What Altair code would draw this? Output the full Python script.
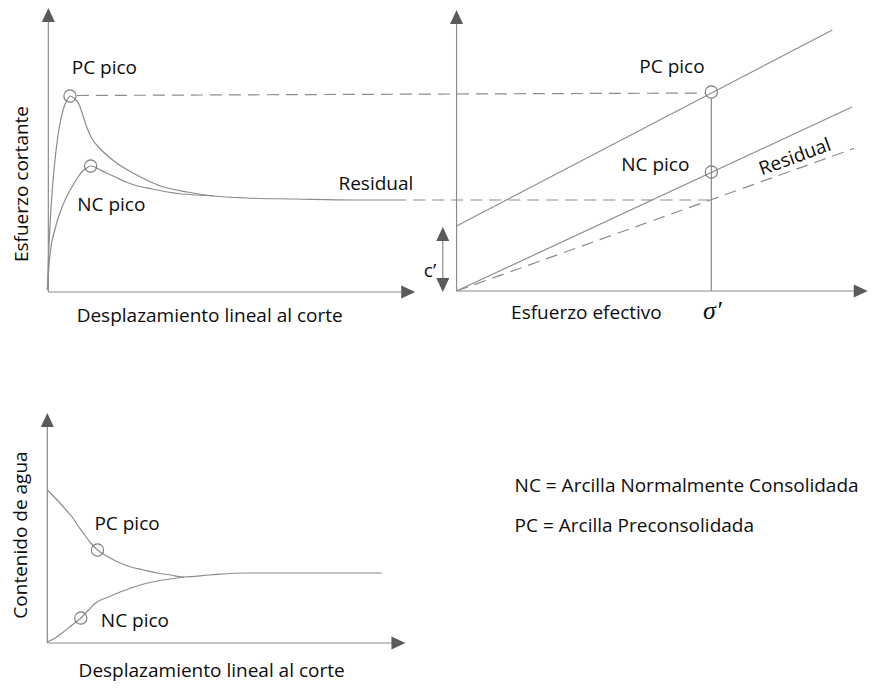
import altair as alt
import pandas as pd

# ---------------- data (diagram units) ----------------
# Panel 1: shear stress vs. shear displacement
pc_shear_x = [48, 49, 51, 53, 56, 60, 64, 68, 71, 75, 80, 84, 88, 93, 102, 117, 137, 163, 190, 217, 250, 300, 360, 413]
pc_shear_y = [290, 262, 220, 190, 158, 128, 110, 100, 96, 98, 104, 115, 127, 138, 149, 162, 174, 186, 192, 196, 198, 199, 200, 200]
nc_shear_x = [48, 50, 52, 55, 59, 63, 68, 73, 78, 83, 88, 92, 96, 100, 108, 117, 128, 140, 155, 170, 185, 200, 217]
nc_shear_y = [290, 262, 245, 232, 218, 207, 196, 187, 179, 172, 168, 166, 167, 169, 173, 177, 182, 186, 189, 192, 194, 195, 196]

# Panel 3: water content vs. shear displacement
pc_water_x = [48, 58, 67, 74, 80, 86, 92, 99, 110, 122, 133, 146, 160, 173, 187, 213, 250, 300, 388]
pc_water_y = [490, 500, 510, 518, 527, 535, 543, 550, 557, 563, 567, 570, 573, 575, 577, 575, 573, 573, 573]
nc_water_x = [48, 56, 63, 72, 82, 90, 97, 110, 122, 133, 146, 160, 173, 187]
nc_water_y = [642, 638, 633, 626, 618, 610, 603, 597, 592, 588, 584, 581, 579, 577]

# Straight solid segments: axes and failure envelopes
seg_x1 = [49, 49, 464, 464, 48, 48, 450, 464, 464, 723]
seg_y1 = [292, 292, 291, 291, 643, 643, 236, 226, 291, 99]
seg_x2 = [49, 410, 464, 876, 48, 400, 450, 846, 866, 723]
seg_y2 = [20, 292, 22, 291, 426, 643, 282, 30, 107, 291]

# Dashed segments: residual envelope and projections
dash_x1 = [464, 78, 420]
dash_y1 = [291, 95.5, 200]
dash_x2 = [875, 716, 721]
dash_y2 = [146, 93, 200]

# Arrow heads (tip position and direction in degrees)
arrow_x = [49, 422, 464, 882, 48, 412, 450, 450]
arrow_y = [8, 292, 10, 291, 413, 643, 227, 292]
arrow_angle = [0, 90, 0, 90, 0, 90, 0, 180]

# Peak markers
circle_x = [71, 92, 723, 723, 99, 82]
circle_y = [96, 166, 92, 172, 550, 618]

# Labels
label_text = ["PC pico", "NC pico", "Residual", "Desplazamiento lineal al corte",
              "PC pico", "NC pico", "Esfuerzo efectivo",
              "PC pico", "NC pico", "Desplazamiento lineal al corte"]
label_x = [106, 113, 382, 213, 683, 666, 596, 129, 137, 215]
label_y = [74, 211, 190, 322, 73, 171, 319, 530, 627, 677]

vlabel_text = ["Esfuerzo cortante", "Contenido de agua"]
vlabel_x = [28, 27]
vlabel_y = [184, 535]

legend_text = ["NC = Arcilla Normalmente Consolidada", "PC = Arcilla Preconsolidada"]
legend_x = [523, 523]
legend_y = [492, 532]

# ---------------- tables ----------------
curves = pd.concat([
    pd.DataFrame({"x": pc_shear_x, "y": pc_shear_y, "id": "pc_shear"}),
    pd.DataFrame({"x": nc_shear_x, "y": nc_shear_y, "id": "nc_shear"}),
    pd.DataFrame({"x": pc_water_x, "y": pc_water_y, "id": "pc_water"}),
    pd.DataFrame({"x": nc_water_x, "y": nc_water_y, "id": "nc_water"}),
], ignore_index=True)
curves["order"] = range(len(curves))

segs = pd.DataFrame({"x": seg_x1, "y": seg_y1, "x2": seg_x2, "y2": seg_y2})
dashes = pd.DataFrame({"x": dash_x1, "y": dash_y1, "x2": dash_x2, "y2": dash_y2})
arrows = pd.DataFrame({"x": arrow_x, "y": arrow_y, "angle": arrow_angle})
circles = pd.DataFrame({"x": circle_x, "y": circle_y})
labels = pd.DataFrame({"t": label_text, "x": label_x, "y": label_y})
vlabels = pd.DataFrame({"t": vlabel_text, "x": vlabel_x, "y": vlabel_y})
legend = pd.DataFrame({"t": legend_text, "x": legend_x, "y": legend_y})
extra = pd.DataFrame({"t": ["Residual"], "x": [808], "y": [157]})
cprime = pd.DataFrame({"t": ["c\u2019"], "x": [437], "y": [277]})
sigma = pd.DataFrame({"t": ["\u03c3\u2032"], "x": [724], "y": [319]})

XS = alt.Scale(domain=[8, 868], nice=False, zero=False)
YS = alt.Scale(domain=[8, 682], nice=False, zero=False, reverse=True)
X = alt.X("x:Q", scale=XS, axis=None)
Y = alt.Y("y:Q", scale=YS, axis=None)

GRAY = "#8c8c8c"
FONT = "Open Sans"
TXT = "#0d0d0d"

curve_layer = alt.Chart(curves).mark_line(
    interpolate="monotone", color=GRAY, strokeWidth=1.2, clip=True
).encode(x=X, y=Y, detail="id:N", order="order:Q")

seg_layer = alt.Chart(segs).mark_rule(color=GRAY, strokeWidth=1.2, clip=True).encode(
    x=X, y=Y, x2="x2:Q", y2="y2:Q")

dash_layer = alt.Chart(dashes).mark_rule(
    color=GRAY, strokeWidth=1.2, strokeDash=[12, 7], clip=True
).encode(x=X, y=Y, x2="x2:Q", y2="y2:Q")

arrow_layer = alt.Chart(arrows).mark_point(
    shape="M0,0L0.93,2L-0.93,2Z", size=196, filled=True, color="#5a5a5a", opacity=1
).encode(x=X, y=Y, angle=alt.Angle("angle:Q", scale=None))

circle_layer = alt.Chart(circles).mark_point(
    shape="circle", size=150, filled=False, color="#7a7a7a", strokeWidth=1.1, opacity=1
).encode(x=X, y=Y)

label_layer = alt.Chart(labels).mark_text(
    font=FONT, fontSize=19, color=TXT, align="center", baseline="alphabetic"
).encode(x=X, y=Y, text="t:N")

vlabel_layer = alt.Chart(vlabels).mark_text(
    font=FONT, fontSize=19, color=TXT, align="center", baseline="alphabetic", angle=270
).encode(x=X, y=Y, text="t:N")

legend_layer = alt.Chart(legend).mark_text(
    font=FONT, fontSize=19, color=TXT, align="left", baseline="alphabetic"
).encode(x=X, y=Y, text="t:N")

resid_layer = alt.Chart(extra).mark_text(
    font=FONT, fontSize=19, color=TXT, align="center", baseline="middle", angle=340
).encode(x=X, y=Y, text="t:N")

cprime_layer = alt.Chart(cprime).mark_text(
    font=FONT, fontSize=19, color=TXT, align="center", baseline="alphabetic"
).encode(x=X, y=Y, text="t:N")

sigma_layer = alt.Chart(sigma).mark_text(
    font="Liberation Serif", fontSize=26, fontStyle="italic", color=TXT,
    align="center", baseline="alphabetic"
).encode(x=X, y=Y, text="t:N")

chart = alt.layer(
    dash_layer, seg_layer, curve_layer, arrow_layer, circle_layer,
    label_layer, vlabel_layer, legend_layer, resid_layer, cprime_layer, sigma_layer
).properties(
    width=860, height=674,
    autosize=alt.AutoSizeParams(type="fit", contains="padding"),
    padding=0,
    background="white",
).configure_view(stroke=None)

chart.save("out.html", embed_options={"renderer": "svg", "actions": False})
